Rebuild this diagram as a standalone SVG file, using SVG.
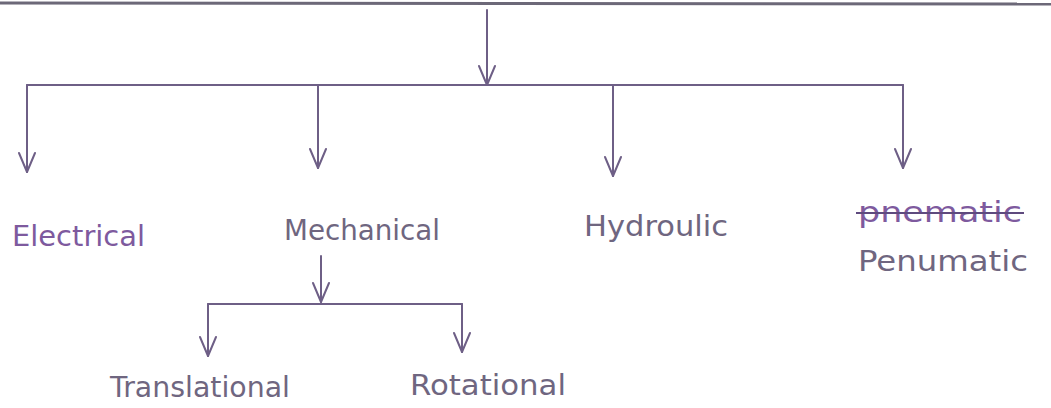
<svg xmlns="http://www.w3.org/2000/svg" width="1051" height="408" viewBox="0 0 1051 408">
<style>
.ln{stroke:#6e5f86;stroke-width:2;fill:none;stroke-linecap:round}
.lbl{font-family:"DejaVu Sans",sans-serif;font-size:28px;fill:#7e5a9e}
.gr{fill:#6f6680}
</style>
<defs>
<marker id="v" viewBox="0 0 24 24" refX="22" refY="12" markerWidth="24" markerHeight="24" markerUnits="userSpaceOnUse" orient="auto">
<path d="M3,4 L22,12 L3,20" stroke="#6e5f86" stroke-width="2" fill="none" stroke-linecap="round" stroke-linejoin="round"/>
</marker>
</defs>
<rect width="1051" height="408" fill="#ffffff"/>
<line x1="0" y1="3" x2="1051" y2="4" stroke="#6c6878" stroke-width="3"/>
<g id="connectors">
<line class="ln" x1="487" y1="10" x2="487" y2="85" marker-end="url(#v)"/>
<line class="ln" x1="27" y1="85" x2="903" y2="85"/>
<line class="ln" x1="27" y1="85" x2="27" y2="172" marker-end="url(#v)"/>
<line class="ln" x1="318" y1="85" x2="318" y2="168" marker-end="url(#v)"/>
<line class="ln" x1="613" y1="85" x2="613" y2="176" marker-end="url(#v)"/>
<line class="ln" x1="903" y1="85" x2="903" y2="168" marker-end="url(#v)"/>
<line class="ln" x1="321" y1="256" x2="321" y2="302" marker-end="url(#v)"/>
<line class="ln" x1="208" y1="304" x2="462" y2="304"/>
<line class="ln" x1="208" y1="304" x2="208" y2="356" marker-end="url(#v)"/>
<line class="ln" x1="462" y1="304" x2="462" y2="352" marker-end="url(#v)"/>
</g>
<g id="electrical"><text class="lbl" x="12" y="246" textLength="133" lengthAdjust="spacingAndGlyphs">Electrical</text></g>
<g id="mechanical"><text class="lbl gr" x="284" y="240" textLength="156" lengthAdjust="spacingAndGlyphs">Mechanical</text></g>
<g id="hydroulic"><text class="lbl gr" x="584" y="236" textLength="144" lengthAdjust="spacingAndGlyphs">Hydroulic</text></g>
<g id="penumatic">
<text class="lbl" x="858" y="222" textLength="164" lengthAdjust="spacingAndGlyphs">pnematic</text>
<line x1="856" y1="213" x2="1024" y2="213" stroke="#5e4a7e" stroke-width="2"/>
<text class="lbl gr" x="858" y="271" textLength="170" lengthAdjust="spacingAndGlyphs">Penumatic</text>
</g>
<g id="translational"><text class="lbl gr" x="110" y="397" textLength="180" lengthAdjust="spacingAndGlyphs">Translational</text></g>
<g id="rotational"><text class="lbl gr" x="410" y="395" textLength="156" lengthAdjust="spacingAndGlyphs">Rotational</text></g>
</svg>
